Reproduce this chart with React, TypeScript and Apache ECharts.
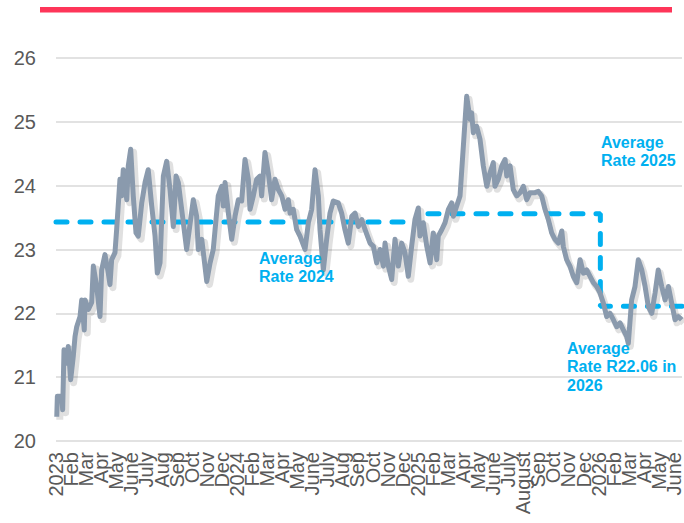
import React, { useEffect, useRef } from "react";
import * as echarts from "echarts";

// Month tick labels (index 0 = Jan 2023)
const monthLabels = [
  "2023", "Feb", "Mar", "Apr", "May", "June", "July", "Aug", "Sep", "Oct", "Nov", "Dec",
  "2024", "Feb", "Mar", "Apr", "May", "June", "July", "Aug", "Sep", "Oct", "Nov", "Dec",
  "2025", "Feb", "Mar", "Apr", "May", "June", "July", "August", "Sep", "Oct", "Nov", "Dec",
  "2026", "Feb", "Mar", "Apr", "May", "June",
];

// Position in months since Jan 2023
const monthPos = [
  0.05, 0.09, 0.38, 0.44, 0.53, 0.71, 0.81, 0.97, 1.14, 1.26, 1.37, 1.59, 1.7, 1.87, 1.92, 2.14, 2.36, 2.47, 2.69, 2.91,
  3.02, 3.24, 3.46, 3.57, 3.68, 3.9, 4.01, 4.23, 4.34, 4.45, 4.68, 4.78, 4.94, 5.11, 5.29, 5.44, 5.67, 5.89, 6.1, 6.33,
  6.55, 6.7, 6.88, 7.1, 7.32, 7.54, 7.76, 7.94, 8.09, 8.31, 8.64, 9.08, 9.3, 9.41, 9.64, 9.97, 10.19, 10.4, 10.52, 10.73,
  10.96, 11.06, 11.18, 11.4, 11.62, 11.84, 12.06, 12.28, 12.5, 12.72, 12.83, 13.05, 13.27, 13.49, 13.6, 13.82, 14.04, 14.26, 14.48, 14.7,
  14.93, 15.15, 15.36, 15.48, 15.69, 15.92, 16.14, 16.47, 16.69, 16.91, 17.13, 17.35, 17.46, 17.68, 17.9, 18.12, 18.34, 18.67, 18.89, 19.11,
  19.33, 19.56, 19.78, 20.0, 20.22, 20.44, 20.77, 20.99, 21.21, 21.43, 21.65, 21.76, 21.98, 22.2, 22.42, 22.64, 22.86, 23.08, 23.3, 23.52,
  23.74, 23.96, 24.07, 24.29, 24.52, 24.74, 24.95, 25.18, 25.28, 25.51, 25.73, 25.95, 26.17, 26.28, 26.5, 26.72, 26.94, 27.16, 27.38, 27.49,
  27.6, 27.82, 28.04, 28.26, 28.49, 28.7, 28.92, 29.03, 29.25, 29.48, 29.7, 29.81, 30.03, 30.24, 30.47, 30.69, 30.91, 31.13, 31.35, 31.68,
  31.9, 32.12, 32.34, 32.56, 32.78, 33.0, 33.22, 33.45, 33.55, 33.77, 33.99, 34.21, 34.44, 34.66, 34.88, 35.1, 35.32, 35.54, 35.76, 35.98,
  36.2, 36.42, 36.64, 36.86, 37.08, 37.3, 37.52, 37.74, 37.85, 38.07, 38.29, 38.51, 38.74, 38.96, 39.17, 39.4, 39.62, 39.83, 40.06, 40.28,
  40.5, 40.72, 40.94, 41.16, 41.38,
];

// Exchange rate (R per unit)
const rate = [
  20.38, 20.7, 20.7, 20.49, 21.43, 21.22, 21.48, 20.96, 21.32, 21.64, 21.79, 21.95, 22.21, 21.74, 22.21, 22.06, 22.17, 22.74, 22.42, 21.95,
  22.68, 22.92, 22.63, 22.45, 22.84, 22.95, 23.31, 24.1, 23.84, 24.25, 23.78, 24.31, 24.57, 23.84, 23.26, 23.21, 23.73, 24.05, 24.25, 23.68,
  23.21, 22.63, 22.79, 24.15, 24.38, 23.94, 23.36, 24.15, 24.05, 23.63, 23.0, 23.78, 23.52, 23.0, 23.16, 22.5, 22.79, 23.0, 23.31, 23.84,
  23.99, 23.68, 24.05, 23.57, 23.16, 23.52, 23.78, 23.76, 24.41, 24.1, 23.63, 23.84, 24.1, 24.15, 23.84, 24.52, 24.2, 23.78, 24.1, 23.94,
  23.84, 23.63, 23.78, 23.57, 23.63, 23.31, 23.21, 23.0, 23.42, 23.63, 24.25, 23.84, 23.31, 22.68, 23.16, 23.57, 23.76, 23.73, 23.57, 23.31,
  23.1, 23.52, 23.57, 23.36, 23.47, 23.31, 23.1, 23.05, 22.79, 23.0, 22.74, 23.1, 22.74, 22.53, 23.16, 22.74, 23.1, 22.95, 22.58, 23.05,
  23.47, 23.65, 23.21, 23.42, 23.05, 22.79, 23.26, 22.84, 23.21, 23.31, 23.42, 23.63, 23.73, 23.52, 23.68, 23.84, 24.62, 25.4, 25.04, 25.14,
  24.83, 24.93, 24.73, 24.31, 23.99, 24.2, 24.36, 23.99, 24.1, 24.31, 24.41, 24.15, 24.31, 23.94, 23.84, 23.89, 23.99, 23.78, 23.89, 23.89,
  23.91, 23.84, 23.63, 23.47, 23.26, 23.16, 23.1, 23.29, 23.05, 22.84, 22.74, 22.58, 22.48, 22.84, 22.63, 22.68, 22.58, 22.48, 22.42, 22.32,
  22.16, 21.95, 22.0, 21.9, 21.79, 21.85, 21.74, 21.64, 21.53, 22.21, 22.42, 22.84, 22.68, 22.42, 22.11, 22.0, 22.32, 22.68, 22.42, 22.21,
  22.42, 22.16, 21.9, 21.95, 21.9,
];

// Average rate reference lines: [month position, rate]
const avg2024Pos = [0, 24.0];
const avg2024Val = [23.43, 23.43];
const avg2025Pos = [24.6, 36.0, 36.0, 41.4];
const avg2025Val = [23.56, 23.56, 22.11, 22.11];

const yTicks = { min: 20, max: 26, interval: 1 };
const xMax = 41.4;

const FONT = "'Liberation Sans', Arial, Helvetica, sans-serif";
const BLUE = "#00b0f0";

// plot box
const G = { left: 56, right: 2, top: 58, bottom: 82 };
const PLOT_W = 684 - G.left - G.right;

export default function App() {
  const ref = useRef<HTMLDivElement>(null);

  useEffect(() => {
    if (!ref.current) return;
    const chart = echarts.init(ref.current, undefined, { renderer: "svg" });
    const lineData = monthPos.map((m, i) => [m, rate[i]]);
    const a24 = avg2024Pos.map((m, i) => [m, avg2024Val[i]]);
    const a25 = avg2025Pos.map((m, i) => [m, avg2025Val[i]]);

    const dashStyle = {
      color: BLUE,
      width: 5,
      type: [11, 13] as any,
      cap: "round" as any,
    };

    const hiddenAxis = {
      show: false,
      splitLine: { show: false },
    };

    // label grid: category positions 0..41 aligned with value positions 0..41 of the main grid
    const lastIdx = monthLabels.length - 1;
    const labelRight = G.right + PLOT_W * (1 - lastIdx / xMax);

    chart.setOption({
      animation: false,
      backgroundColor: "#ffffff",
      textStyle: { fontFamily: FONT },
      grid: [
        { ...G, containLabel: false },
        // same plot shifted 3px right/down, used for the drop shadow of the rate line
        { left: G.left + 3, right: G.right - 3, top: G.top + 3, bottom: G.bottom - 3, containLabel: false },
        // month labels
        { left: G.left, right: labelRight, top: G.top, bottom: G.bottom, containLabel: false },
      ],
      xAxis: [
        { ...hiddenAxis, type: "value", min: 0, max: xMax },
        { ...hiddenAxis, type: "value", gridIndex: 1, min: 0, max: xMax },
        {
          type: "category",
          gridIndex: 2,
          data: monthLabels,
          boundaryGap: false,
          axisLine: { show: false },
          axisTick: { show: false },
          splitLine: { show: false },
          axisLabel: {
            interval: 0,
            rotate: 90,
            margin: 11,
            fontSize: 20,
            color: "#595959",
            fontFamily: FONT,
          },
        },
      ],
      yAxis: [
        {
          type: "value",
          min: yTicks.min,
          max: yTicks.max,
          interval: yTicks.interval,
          axisLine: { show: false },
          axisTick: { show: false },
          splitLine: { lineStyle: { color: "#d9d9d9", width: 1.5 } },
          axisLabel: { margin: 20, fontSize: 20, color: "#595959", fontFamily: FONT },
        },
        { ...hiddenAxis, type: "value", gridIndex: 1, min: yTicks.min, max: yTicks.max },
        { ...hiddenAxis, type: "value", gridIndex: 2, min: yTicks.min, max: yTicks.max },
      ],
      series: [
        {
          type: "line",
          xAxisIndex: 1,
          yAxisIndex: 1,
          data: lineData,
          symbol: "none",
          silent: true,
          lineStyle: { color: "rgba(60,60,60,0.16)", width: 7, join: "round" },
          z: 0,
        },
        {
          type: "line",
          data: a24,
          symbol: "none",
          lineStyle: dashStyle,
          z: 1,
        },
        {
          type: "line",
          data: a25,
          symbol: "none",
          lineStyle: dashStyle,
          z: 1,
        },
        {
          type: "line",
          data: lineData,
          symbol: "none",
          lineStyle: {
            color: "#8a9aad",
            width: 5,
            join: "round",
          },
          z: 2,
        },
      ],
      graphic: [
        {
          type: "rect",
          shape: { x: 40, y: 7, width: 632, height: 5.5 },
          style: { fill: "#fe3559" },
        },
        {
          type: "text",
          left: 259,
          top: 249,
          z: 10,
          style: {
            text: "Average\nRate 2024",
            fill: BLUE,
            font: `bold 16px ${FONT}`,
            lineHeight: 18,
          },
        },
        {
          type: "text",
          left: 601,
          top: 133,
          z: 10,
          style: {
            text: "Average\nRate 2025",
            fill: BLUE,
            font: `bold 16px ${FONT}`,
            lineHeight: 18,
          },
        },
        {
          type: "text",
          left: 567,
          top: 339,
          z: 10,
          style: {
            text: "Average\nRate R22.06 in\n2026",
            fill: BLUE,
            font: `bold 16px ${FONT}`,
            lineHeight: 18.5,
          },
        },
      ],
    });
    return () => chart.dispose();
  }, []);

  return (
    <div
      ref={ref}
      style={{ position: "fixed", left: 0, top: 0, width: 684, height: 523 }}
    />
  );
}
